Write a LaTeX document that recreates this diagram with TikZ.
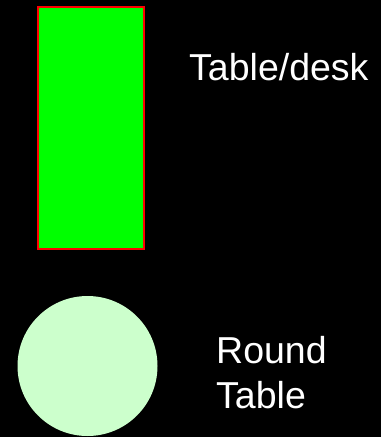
\documentclass[tikz,border=0pt]{standalone}
\usepackage{fontspec}
\setmainfont{Liberation Sans}
\definecolor{deskgreen}{HTML}{00FF00}
\definecolor{deskred}{HTML}{FF0000}
\definecolor{roundgreen}{HTML}{CCFFCC}

\begin{document}
\begin{tikzpicture}[x=1pt,y=-1pt,
  desk/.style={draw=deskred,fill=deskgreen,line width=2pt,minimum width=106pt,minimum height=242pt,inner sep=0pt},
  roundtbl/.style={circle,fill=roundgreen,minimum size=140pt,inner sep=0pt},
  lbl/.style={text=white,inner sep=0pt,font=\fontsize{37.5}{45}\selectfont,align=left}]
\fill[black] (0,0) rectangle (381,437);
\useasboundingbox (0,0) rectangle (381,437);
\node[desk] (desk) at (90.5,127.5) {};
\node[roundtbl] (round) at (87.5,366) {};
\node[lbl,anchor=base west] (desklbl) at (189,80) {Table/desk};
\node[lbl,anchor=north west] (roundlbl) at (216,336.5) {Round\\Table};
\end{tikzpicture}
\end{document}
